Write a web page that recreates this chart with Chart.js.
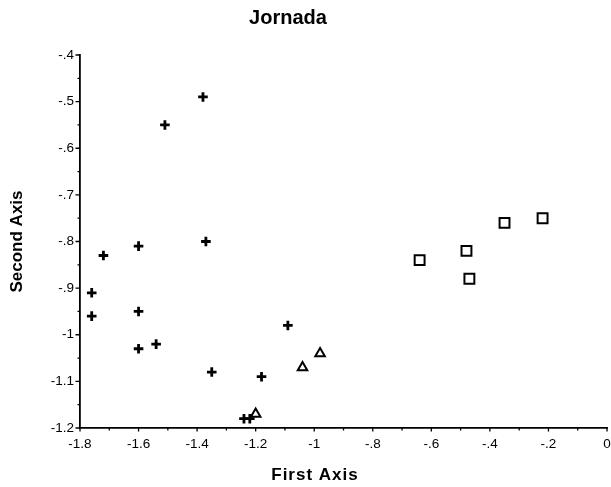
<!DOCTYPE html>
<html lang="en">
<head>
    <meta charset="UTF-8">
    <title>Jornada</title>
    <script src="https://cdn.jsdelivr.net/npm/chart.js"></script>
    <style>
        body { margin: 0; background: #fff; }
        #wrap { width: 611px; height: 487px; }
    </style>
</head>
<body>
    <div id="wrap"><canvas id="myChart" width="611" height="487"></canvas></div>

    <script>
        // Points (first axis, second axis)
        const plusX = [-1.38, -1.51, -1.37, -1.60, -1.72, -1.76, -1.76, -1.60, -1.60, -1.54, -1.35, -1.18, -1.09, -1.24, -1.22];
        const plusY = [-0.49, -0.55, -0.80, -0.81, -0.83, -0.91, -0.96, -0.95, -1.03, -1.02, -1.08, -1.09, -0.98, -1.18, -1.18];
        const triX = [-1.20, -1.04, -0.98];
        const triY = [-1.17, -1.07, -1.04];
        const sqX = [-0.64, -0.48, -0.47, -0.35, -0.22];
        const sqY = [-0.84, -0.82, -0.88, -0.76, -0.75];

        const xTicks = [-1.8, -1.6, -1.4, -1.2, -1, -0.8, -0.6, -0.4, -0.2, 0];
        const yTicks = [-0.4, -0.5, -0.6, -0.7, -0.8, -0.9, -1, -1.1, -1.2];

        const FONT = '"Liberation Sans", Arial, Helvetica, sans-serif';

        function pts(xs, ys) {
            return xs.map((x, i) => ({ x: x, y: ys[i] }));
        }

        // "-0.4" -> "-.4", "-1.0" -> "-1"
        function fmt(v) {
            const s = String(Math.round(v * 10) / 10);
            return s.replace('0.', '.');
        }

        // title, x-axis title and tick marks (major + minor)
        const decor = {
            id: 'decor',
            afterDraw(chart) {
                const ctx = chart.ctx;
                const xs = chart.scales.x, ys = chart.scales.y;
                const a = chart.chartArea;
                ctx.save();
                ctx.strokeStyle = '#000';
                ctx.lineWidth = 1.3;
                ctx.beginPath();
                // y: every .05, longer at each .1
                for (let i = 0; i <= 16; i++) {
                    const py = ys.getPixelForValue(-1.2 + i * 0.05);
                    const len = i % 2 === 0 ? 4.5 : 2.5;
                    ctx.moveTo(a.left - len, py);
                    ctx.lineTo(a.left, py);
                }
                // x: every .1, longer at each .2
                for (let i = 0; i <= 18; i++) {
                    const px = xs.getPixelForValue(-1.8 + i * 0.1);
                    const len = i % 2 === 0 ? 3.5 : 2.5;
                    ctx.moveTo(px, a.bottom);
                    ctx.lineTo(px, a.bottom + len);
                }
                ctx.stroke();

                ctx.fillStyle = '#000';
                ctx.textAlign = 'center';
                ctx.textBaseline = 'middle';
                ctx.font = 'bold 20px ' + FONT;
                ctx.fillText('Jornada', 288, 18);
                ctx.font = 'bold 17px ' + FONT;
                ctx.letterSpacing = '1px';
                ctx.fillText('First Axis', 315, 475);
                ctx.restore();
            }
        };

        const ctx = document.getElementById('myChart').getContext('2d');
        const chart = new Chart(ctx, {
            type: 'scatter',
            data: {
                datasets: [
                    {
                        label: 'plus',
                        data: pts(plusX, plusY),
                        pointStyle: 'cross',
                        radius: 4.8,
                        borderWidth: 2.8,
                        borderColor: '#000'
                    },
                    {
                        label: 'triangle',
                        data: pts(triX, triY),
                        pointStyle: 'triangle',
                        radius: 5.5,
                        borderWidth: 2,
                        borderColor: '#000',
                        backgroundColor: '#fff'
                    },
                    {
                        label: 'square',
                        data: pts(sqX, sqY),
                        pointStyle: 'rect',
                        radius: 7,
                        borderWidth: 2,
                        borderColor: '#000',
                        backgroundColor: '#fff'
                    }
                ]
            },
            options: {
                responsive: false,
                animation: false,
                layout: {
                    autoPadding: false,
                    padding: { top: 55, right: 4, left: 0, bottom: 0 }
                },
                plugins: {
                    legend: { display: false },
                    tooltip: { enabled: false }
                },
                scales: {
                    x: {
                        type: 'linear',
                        min: -1.8,
                        max: 0,
                        afterBuildTicks: s => { s.ticks = xTicks.map(v => ({ value: v })); },
                        afterFit: s => { s.height = 59; s.paddingLeft = 0; s.paddingRight = 0; },
                        grid: {
                            display: true,
                            drawOnChartArea: false,
                            drawTicks: true,
                            tickLength: 8,
                            tickColor: 'rgba(0,0,0,0)'
                        },
                        border: { display: true, color: '#000', width: 1.8 },
                        ticks: {
                            padding: 0,
                            color: '#000',
                            font: { family: FONT, size: 13.5 },
                            callback: v => fmt(v),
                            maxRotation: 0
                        }
                    },
                    y: {
                        type: 'linear',
                        min: -1.2,
                        max: -0.4,
                        afterBuildTicks: s => { s.ticks = yTicks.map(v => ({ value: v })); },
                        afterFit: s => { s.width = 80; },
                        grid: { display: false, drawTicks: false },
                        border: { display: true, color: '#000', width: 1.8 },
                        title: {
                            display: true,
                            text: 'Second Axis',
                            color: '#000',
                            font: { family: FONT, size: 17, weight: 'bold' },
                            padding: { top: 7, bottom: 0 }
                        },
                        ticks: {
                            padding: 6,
                            color: '#000',
                            font: { family: FONT, size: 13.5 },
                            callback: v => fmt(v)
                        }
                    }
                }
            },
            plugins: [decor]
        });
    </script>
</body>
</html>
